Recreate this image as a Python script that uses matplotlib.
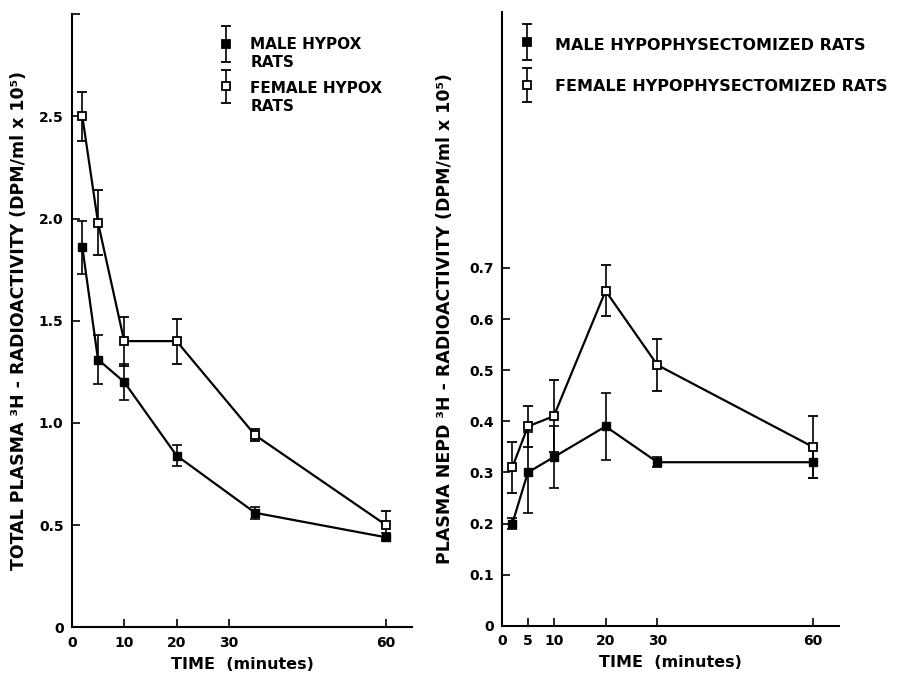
import matplotlib
matplotlib.use("Agg")
import matplotlib.pyplot as plt
import numpy as np

# ---- data: left panel (total plasma 3H radioactivity) ----
time_left = [2, 5, 10, 20, 35, 60]
male_total = [1.86, 1.31, 1.20, 0.84, 0.56, 0.44]
male_total_err = [0.13, 0.12, 0.09, 0.05, 0.03, 0.02]
female_total = [2.50, 1.98, 1.40, 1.40, 0.94, 0.50]
female_total_err = [0.12, 0.16, 0.12, 0.11, 0.03, 0.07]

# ---- data: right panel (plasma NEPD 3H radioactivity) ----
time_right = [2, 5, 10, 20, 30, 60]
male_nepd = [0.20, 0.30, 0.33, 0.39, 0.32, 0.32]
male_nepd_err = [0.01, 0.08, 0.06, 0.065, 0.01, 0.03]
female_nepd = [0.31, 0.39, 0.41, 0.655, 0.51, 0.35]
female_nepd_err = [0.05, 0.04, 0.07, 0.05, 0.05, 0.06]

left_xticks = [0, 10, 20, 30, 60]
right_xticks = [0, 5, 10, 20, 30, 60]
left_yticks = [0, 0.5, 1.0, 1.5, 2.0, 2.5, 3.0]
left_yticklabels = ["0", "0.5", "1.0", "1.5", "2.0", "2.5", ""]
right_yticks = [0, 0.1, 0.2, 0.3, 0.4, 0.5, 0.6, 0.7]
right_yticklabels = ["0", "0.1", "0.2", "0.3", "0.4", "0.5", "0.6", "0.7"]

left_legend = ["MALE HYPOX\nRATS", "FEMALE HYPOX\nRATS"]
right_legend = ["MALE HYPOPHYSECTOMIZED RATS", "FEMALE HYPOPHYSECTOMIZED RATS"]

plt.rcParams['font.family'] = ['DejaVu Sans']
plt.rcParams['font.weight'] = 'bold'

fig = plt.figure(figsize=(8.98, 6.73), dpi=100)
axL = fig.add_axes([0.080, 0.068, 0.379, 0.911])
axR = fig.add_axes([0.559, 0.070, 0.375, 0.912])

K = 'black'
ekw = dict(ecolor=K, elinewidth=1.2, capsize=3.5, capthick=1.2, ls='none')


def draw(ax, t, m, me, f, fe):
    ax.plot(t, m, color=K, lw=1.6, zorder=2)
    ax.plot(t, f, color=K, lw=1.6, zorder=2)
    ax.errorbar(t, m, yerr=me, fmt='s', ms=6, mfc=K, mec=K, zorder=3, **ekw)
    ax.errorbar(t, f, yerr=fe, fmt='s', ms=6, mfc='white', mec=K, mew=1.3, zorder=4, **ekw)


draw(axL, time_left, male_total, male_total_err, female_total, female_total_err)
draw(axR, time_right, male_nepd, male_nepd_err, female_nepd, female_nepd_err)

for ax in (axL, axR):
    for s in ('top', 'right'):
        ax.spines[s].set_visible(False)
    for s in ('left', 'bottom'):
        ax.spines[s].set_linewidth(1.5)
    ax.set_xlim(0, 65)
    ax.tick_params(direction='in', length=6, width=1.2, labelsize=10, pad=6)
    ax.set_xlabel("TIME  (minutes)", fontsize=11.5, fontweight='bold', labelpad=5)

axL.set_ylim(0, 3.0)
axL.set_xticks(left_xticks)
axL.set_yticks(left_yticks)
axL.set_yticklabels(left_yticklabels)
axL.set_ylabel("TOTAL PLASMA ³H - RADIOACTIVITY (DPM/ml x 10⁵)", fontsize=12.5,
               fontweight='bold')

axR.set_ylim(0, 1.2)
axR.set_xticks(right_xticks)
axR.set_yticks(right_yticks)
axR.set_yticklabels(right_yticklabels)
axR.set_ylabel("PLASMA NEPD ³H - RADIOACTIVITY (DPM/ml x 10⁵)", fontsize=12.5,
               fontweight='bold')
axL.yaxis.set_label_coords(-0.128, 0.5)
axR.yaxis.set_label_coords(-0.143, 0.5)

# ---- legends (drawn as keys + text in axes coordinates) ----
def legend_key(ax, x, y, half, filled):
    ax.errorbar([x], [y], yerr=[half], fmt='s', ms=6,
                mfc=K if filled else 'white', mec=K, mew=1.3,
                transform=ax.transAxes, clip_on=False, **ekw)

legend_key(axL, 0.453, 0.951, 0.029, True)
legend_key(axL, 0.453, 0.882, 0.027, False)
axL.text(0.524, 0.962, left_legend[0], transform=axL.transAxes, fontsize=11,
         fontweight='bold', va='top', ha='left', linespacing=1.25)
axL.text(0.524, 0.891, left_legend[1], transform=axL.transAxes, fontsize=11,
         fontweight='bold', va='top', ha='left', linespacing=1.25)

legend_key(axR, 0.074, 0.951, 0.029, True)
legend_key(axR, 0.074, 0.881, 0.028, False)
axR.text(0.157, 0.946, right_legend[0], transform=axR.transAxes, fontsize=11.5,
         fontweight='bold', va='center', ha='left')
axR.text(0.157, 0.879, right_legend[1], transform=axR.transAxes, fontsize=11.5,
         fontweight='bold', va='center', ha='left')

fig.savefig("out.png", dpi=100)
